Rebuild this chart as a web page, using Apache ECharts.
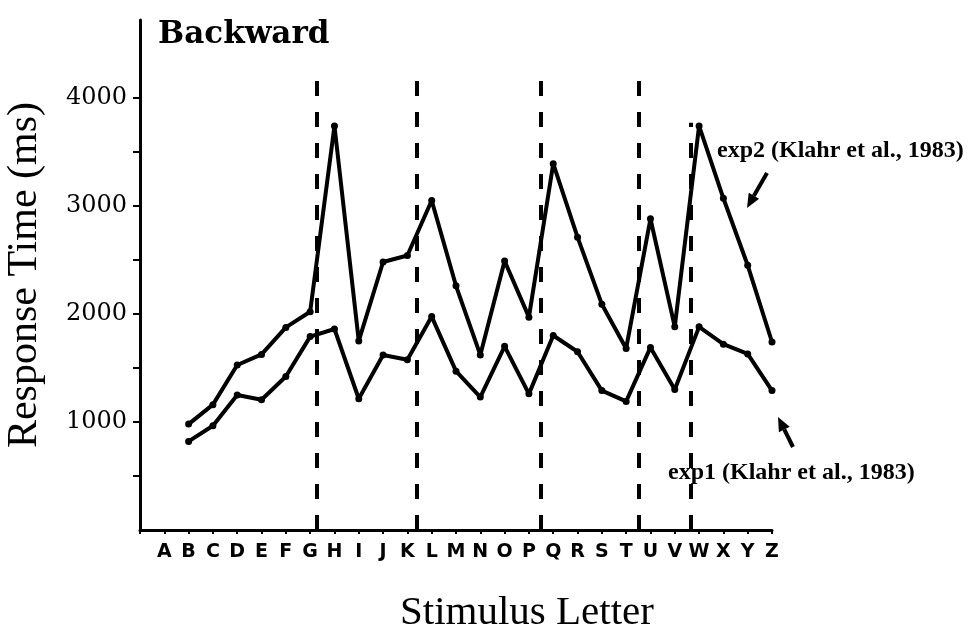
<!DOCTYPE html>
<html><head><meta charset="utf-8">
<script src="https://cdn.jsdelivr.net/npm/echarts@6/dist/echarts.min.js"></script>
<style>html,body{margin:0;padding:0;background:#fff}#c{width:971px;height:636px}</style>
</head><body><div id="c"></div>
<script>
// Categories (alphabet) and probe letters (data start at B for backward recitation)
const letters = ['A','B','C','D','E','F','G','H','I','J','K','L','M','N','O','P','Q','R','S','T','U','V','W','X','Y','Z'];
const probeLetters = ['B','C','D','E','F','G','H','I','J','K','L','M','N','O','P','Q','R','S','T','U','V','W','X','Y','Z'];
// exp2 (Klahr et al., 1983) response times (ms)
const exp2 = [980,1160,1527,1625,1875,2020,3740,1750,2480,2540,3050,2260,1620,2490,1970,3390,2710,2090,1680,2880,1880,3740,3070,2450,1740];
// exp1 (Klahr et al., 1983) response times (ms)
const exp1 = [820,965,1250,1205,1420,1790,1860,1215,1620,1575,1975,1470,1230,1700,1260,1800,1650,1290,1190,1690,1300,1880,1720,1630,1290];
// y tick marks and labelled ticks
const yTickValues = [500,1000,1500,2000,2500,3000,3500,4000];
const yLabelValues = [1000,2000,3000,4000];
// chunk boundaries (in letter-index units) and the top of each dashed line
const chunkBoundaries = [6.27, 10.38, 15.5, 19.5, 21.65];
const boundaryTops = [4290, 4290, 4290, 4290, 3770];

const idx = l => letters.indexOf(l);
const toPairs = vals => probeLetters.map((l, i) => [idx(l), vals[i]]);

const chart = echarts.init(document.getElementById('c'), null, {renderer: 'canvas'});

const lineStyleCommon = {color: '#000', width: 4};
const option = {
  backgroundColor: '#fff',
  animation: false,
  grid: {left: 140, right: 199, top: 20, bottom: 106, outerBoundsMode: 'none'},
  xAxis: {
    type: 'value', min: -1, max: 25, interval: 1,
    axisLine: {onZero: false, lineStyle: {color: '#000', width: 3}},
    axisTick: {show: true, length: 4, lineStyle: {color: '#000', width: 2}},
    axisLabel: {
      customValues: letters.map((l, i) => i),
      formatter: v => letters[Math.round(v)] || '',
      margin: 13, fontFamily: 'DejaVu Sans', fontWeight: 'bold', fontSize: 19, color: '#000'
    },
    splitLine: {show: false}
  },
  yAxis: {
    type: 'value', min: 0, max: 4720,
    axisLine: {show: true, onZero: false, lineStyle: {color: '#000', width: 3}},
    axisTick: {show: true, length: 7, customValues: yTickValues, lineStyle: {color: '#000', width: 2}},
    axisLabel: {
      customValues: yLabelValues, margin: 13,
      formatter: v => String(v),
      fontFamily: 'DejaVu Serif', fontSize: 24, color: '#000'
    },
    splitLine: {show: false},
    name: 'Response Time (ms)', nameLocation: 'middle', nameRotate: 90, nameGap: 94,
    nameTextStyle: {fontFamily: 'Liberation Serif', fontSize: 42, color: '#000'}
  },
  graphic: [
    {type: 'text', left: 158, top: 19, style: {text: 'Backward', font: 'bold 31px "DejaVu Serif"', fill: '#000'}},
    {type: 'text', x: 400, y: 613, style: {text: 'Stimulus Letter', font: '41px "Liberation Serif"', fill: '#000', verticalAlign: 'middle'}},
    {type: 'text', left: 717, top: 139, style: {text: 'exp2 (Klahr et al., 1983)', font: 'bold 24px "Liberation Serif"', fill: '#000'}},
    {type: 'text', left: 668, top: 461, style: {text: 'exp1 (Klahr et al., 1983)', font: 'bold 24px "Liberation Serif"', fill: '#000'}},
    // exp2 arrow
    {type: 'line', shape: {x1: 767, y1: 173, x2: 753.9, y2: 195.8}, style: {stroke: '#000', lineWidth: 4}},
    {type: 'polygon', shape: {points: [[747, 208], [759.1, 198.8], [748.7, 192.8]]}, style: {fill: '#000'}},
    // exp1 arrow
    {type: 'line', shape: {x1: 793, y1: 447, x2: 784.3, y2: 429.5}, style: {stroke: '#000', lineWidth: 4}},
    {type: 'polygon', shape: {points: [[778, 417], [789.7, 426.8], [778.9, 432.2]]}, style: {fill: '#000'}}
  ],
  series: [
    {
      name: 'exp2', type: 'line', data: toPairs(exp2),
      symbol: 'circle', symbolSize: 7, lineStyle: lineStyleCommon, itemStyle: {color: '#000'}, z: 3
    },
    {
      name: 'exp1', type: 'line', data: toPairs(exp1),
      symbol: 'circle', symbolSize: 7, lineStyle: lineStyleCommon, itemStyle: {color: '#000'}, z: 3,
      markLine: {
        silent: true, symbol: ['none', 'none'], label: {show: false},
        lineStyle: {color: '#000', width: 4, type: [15, 16]},
        emphasis: {disabled: true},
        data: chunkBoundaries.map((b, i) => [{coord: [b, 0]}, {coord: [b, boundaryTops[i]]}])
      }
    }
  ]
};
chart.setOption(option);
</script>
</body></html>
